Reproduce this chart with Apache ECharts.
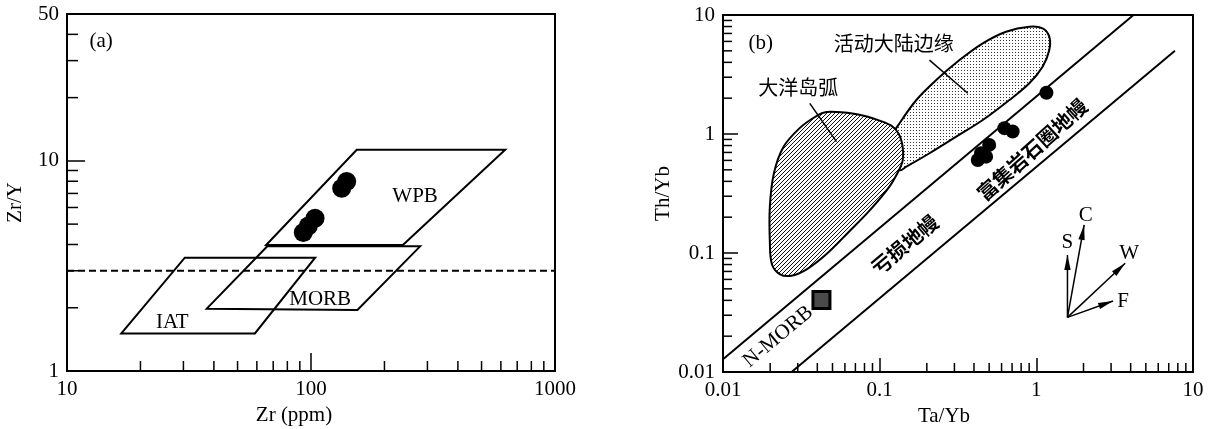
<!DOCTYPE html>
<html><head><meta charset="utf-8">
<script src="https://cdn.jsdelivr.net/npm/echarts@6/dist/echarts.min.js"></script>
<style>html,body{margin:0;padding:0;background:#fff}#c{width:1212px;height:429px}</style>
</head><body><div id="c"></div>
<script>
// ================= DATA: panel (a) Zr vs Zr/Y =================
const wpbField  = [[65.5, 3.98], [154, 11.3], [625, 11.3], [238, 3.98]];
const morbField = [[37.4, 1.98], [66.2, 3.92], [280, 3.92], [155, 1.95]];
const iatField  = [[16.7, 1.51], [30.4, 3.46], [104, 3.46], [58.9, 1.51]];
const dashedLine = [[10, 3], [1000, 3]];
const samplesA = [[133.6, 7.41], [140, 7.97], [103.9, 5.33], [97.5, 4.9], [93, 4.56]];

// ================= DATA: panel (b) Ta/Yb vs Th/Yb =================
const arcField = [[0.0458,1.53],[0.0685,1.48],[0.0912,1.35],[0.118,1.18],[0.1325,1.0],[0.1403,0.777],
  [0.1403,0.60],[0.1325,0.494],[0.1148,0.358],[0.0861,0.227],[0.0646,0.154],[0.0458,0.098],
  [0.0344,0.0733],[0.0273,0.0644],[0.023,0.0665],[0.0205,0.0808],[0.0199,0.127],[0.0199,0.243],
  [0.0211,0.463],[0.0243,0.777],[0.0306,1.11],[0.0386,1.39]];
const acmField = [[0.134,1.23],[0.1714,1.93],[0.2296,2.84],[0.3233,4.18],[0.455,5.78],[0.641,7.24],
  [0.902,7.98],[1.096,7.73],[1.21,6.57],[1.21,5.08],[1.096,3.68],[0.902,2.67],[0.673,1.93],
  [0.455,1.31],[0.308,0.949],[0.208,0.689],[0.148,0.531],[0.134,0.498],[0.125,0.62],[0.12,0.95]];
const upperBoundary = [[0.01, 0.0128], [4.17, 10]];
const lowerBoundary = [[0.0274, 0.01], [7.67, 5.0]];
const arcLeader = [[0.0358, 1.81], [0.053, 0.862]];
const acmLeader = [[0.208, 4.18], [0.365, 2.2]];
const nmorbPoint = [[0.0425, 0.0403]];
const samplesB = [[1.16,2.22],[0.625,1.12],[0.706,1.05],[0.50,0.81],[0.444,0.69],[0.423,0.605],[0.478,0.645]];
const vectorOrigin = [1.58, 0.0288];
const vectorNames = ['S', 'C', 'W', 'F'];
const vectorEnds = [[1.58, 0.0962], [2.02, 0.172], [3.69, 0.0819], [3.09, 0.0395]];
const vectorLabelAt = [[1.58, 0.122], [2.07, 0.2085], [3.91, 0.0994], [3.58, 0.039]];

// ================= TICKS =================
const minorAx = [20,30,40,50,60,70,80,90,200,300,400,500,600,700,800,900];
const minorAy = [2,3,4,5,6,7,8,9,20,30,40];
const minorB  = [0.02,0.03,0.04,0.05,0.06,0.07,0.08,0.09,0.2,0.3,0.4,0.5,0.6,0.7,0.8,0.9,2,3,4,5,6,7,8,9];

// ================= ANNOTATIONS =================
const labelsA = [
  {t:'(a)', at:[13.8, 36.9]}, {t:'WPB', at:[267, 6.8]}, {t:'MORB', at:[109, 2.2]}, {t:'IAT', at:[27, 1.7]}
];
const labelsB = [
  {t:'(b)', at:[0.0174, 5.78]},
  {t:'活动大陆边缘', at:[0.1231, 5.78]},
  {t:'大洋岛弧', at:[0.0302, 2.47]},
  {t:'亏损地幔', at:[0.1444, 0.1175], rot:40, bold:true},
  {t:'富集岩石圈地幔', at:[0.94, 0.74], rot:42, bold:true},
  {t:'N-MORB', at:[0.0225, 0.0198], rot:40}
];

const SERIF = "'Liberation Serif','Times New Roman',serif";
const CJK = "'Noto Sans CJK SC',sans-serif";

function makeHatch() {
  const c = document.createElement('canvas'); c.width = c.height = 4;
  const g = c.getContext('2d');
  g.fillStyle = '#fff'; g.fillRect(0, 0, 4, 4);
  g.strokeStyle = '#111'; g.lineWidth = 1;
  g.beginPath(); g.moveTo(-1,5); g.lineTo(5,-1); g.moveTo(-1,1); g.lineTo(1,-1); g.moveTo(3,5); g.lineTo(5,3); g.stroke();
  return c;
}
function makeDots() {
  const c = document.createElement('canvas'); c.width = c.height = 3;
  const g = c.getContext('2d');
  g.fillStyle = '#fff'; g.fillRect(0, 0, 3, 3);
  g.fillStyle = '#333'; g.fillRect(1,1,1,1);
  return c;
}
const hatchPat = {image: makeHatch(), repeat: 'repeat'};
const dotPat = {image: makeDots(), repeat: 'repeat'};

function polySeries(gi, pts, fill, smooth, lw) {
  return {
    type: 'custom', xAxisIndex: gi, yAxisIndex: gi, data: pts, clip: true, silent: true,
    renderItem: function (params, api) {
      if (params.dataIndex !== 0) return null;
      const p = pts.map(v => api.coord(v));
      return {type: 'polygon', shape: {points: p, smooth: smooth || 0},
        style: {fill: fill || 'none', stroke: '#000', lineWidth: lw || 2}};
    }
  };
}
function lineSeries(gi, pts, lw, dash) {
  return {type: 'line', xAxisIndex: gi, yAxisIndex: gi, data: pts, symbol: 'none', silent: true,
    lineStyle: {color: '#000', width: lw, type: dash || 'solid'}, z: 3};
}
function minorSeries(gi, vals, dir, xmin, ymin, len) {
  const data = vals.map(v => dir === 'x' ? [v, ymin] : [xmin, v]);
  return {type: 'custom', xAxisIndex: gi, yAxisIndex: gi, data: data, silent: true, clip: false,
    renderItem: function (params, api) {
      const p = api.coord([api.value(0), api.value(1)]);
      const q = dir === 'x' ? [p[0], p[1] - len] : [p[0] + len, p[1]];
      return {type: 'line', shape: {x1: p[0], y1: p[1], x2: q[0], y2: q[1]}, style: {stroke: '#000', lineWidth: 1.5}};
    }};
}
function textSeries(gi, labels) {
  return {type: 'custom', xAxisIndex: gi, yAxisIndex: gi, data: labels.map(l => l.at), silent: true, clip: false, z: 6,
    renderItem: function (params, api) {
      const l = labels[params.dataIndex];
      const p = api.coord(l.at);
      const isCJK = /[\u4e00-\u9fff]/.test(l.t);
      return {type: 'text', x: p[0], y: p[1], rotation: (l.rot || 0) * Math.PI / 180,
        style: {text: l.t, fill: '#000', align: 'center', verticalAlign: 'middle',
          font: (l.bold ? 'bold ' : '') + (isCJK ? '20px ' + CJK : '21px ' + SERIF)}};
    }};
}
function vectorSeries(gi) {
  return {type: 'custom', xAxisIndex: gi, yAxisIndex: gi, data: vectorEnds, silent: true, clip: false, z: 5,
    renderItem: function (params, api) {
      const i = params.dataIndex;
      const p0 = api.coord(vectorOrigin), p1 = api.coord(vectorEnds[i]);
      const dx = p1[0] - p0[0], dy = p1[1] - p0[1], L = Math.hypot(dx, dy), ux = dx / L, uy = dy / L;
      const hl = 15, hw = 3.2;
      const b = [p1[0] - ux * hl, p1[1] - uy * hl];
      const lp = api.coord(vectorLabelAt[i]);
      return {type: 'group', children: [
        {type: 'line', shape: {x1: p0[0], y1: p0[1], x2: p1[0], y2: p1[1]}, style: {stroke: '#000', lineWidth: 1.5}},
        {type: 'polygon', shape: {points: [p1, [b[0] - uy * hw, b[1] + ux * hw], [b[0] + uy * hw, b[1] - ux * hw]]}, style: {fill: '#000'}},
        {type: 'text', x: lp[0], y: lp[1], style: {text: vectorNames[i], font: '21px ' + SERIF, fill: '#000', align: 'center', verticalAlign: 'middle'}}
      ]};
    }};
}

const fmt = v => String(+(+v).toPrecision(4));
function axis(gi, min, max, name, isX, tickLen, namePad, gap) {
  return {
    type: 'log', logBase: 10, gridIndex: gi, min: min, max: max,
    name: name, nameLocation: 'middle', nameGap: gap,
    nameTextStyle: {fontFamily: SERIF, fontSize: 21, color: '#000', padding: namePad},
    axisLine: {show: true, onZero: false, lineStyle: {color: '#000', width: 2}},
    axisTick: {show: true, inside: true, length: tickLen, lineStyle: {color: '#000', width: 1.5}},
    minorTick: {show: false}, splitLine: {show: false}, minorSplitLine: {show: false},
    axisLabel: {fontFamily: SERIF, fontSize: 21, color: '#000', margin: isX ? 8 : 8, formatter: fmt, hideOverlap: false}
  };
}

const chart = echarts.init(document.getElementById('c'), null, {renderer: 'canvas'});
chart.setOption({
  animation: false,
  backgroundColor: '#fff',
  grid: [
    {left: 67, top: 14, width: 488, height: 357, show: true, borderColor: '#000', borderWidth: 2, containLabel: false, outerBoundsMode: 'none'},
    {left: 723, top: 15, width: 470, height: 357, show: true, borderColor: '#000', borderWidth: 2, containLabel: false, outerBoundsMode: 'none'}
  ],
  xAxis: [
    axis(0, 10, 1000, 'Zr (ppm)', true, 18, [0, 34, 0, 0], 34),
    axis(1, 0.01, 10, 'Ta/Yb', true, 14, [0, 28, 0, 0], 34)
  ],
  yAxis: [
    axis(0, 1, 50, 'Zr/Y', false, 18, [0, 20, 0, 0], 41),
    axis(1, 0.01, 10, 'Th/Yb', false, 15, [0, 0, 0, 0], 43)
  ],
  series: [
    // panel a
    minorSeries(0, minorAx, 'x', 10, 1, 10),
    minorSeries(0, minorAy, 'y', 10, 1, 11),
    lineSeries(0, dashedLine, 2, [7, 4]),
    polySeries(0, wpbField, 'none', 0, 2),
    polySeries(0, morbField, 'none', 0, 2),
    polySeries(0, iatField, 'none', 0, 2),
    {type: 'scatter', xAxisIndex: 0, yAxisIndex: 0, data: samplesA, symbol: 'circle', symbolSize: 19,
      itemStyle: {color: '#000', opacity: 1}, z: 4, silent: true},
    textSeries(0, labelsA),
    // panel b
    minorSeries(1, minorB, 'x', 0.01, 0.01, 9),
    minorSeries(1, minorB, 'y', 0.01, 0.01, 9),
    polySeries(1, acmField, dotPat, 0.35, 2),
    polySeries(1, arcField, hatchPat, 0.35, 2),
    lineSeries(1, upperBoundary, 2),
    lineSeries(1, lowerBoundary, 2),
    lineSeries(1, arcLeader, 1.5),
    lineSeries(1, acmLeader, 1.5),
    {type: 'scatter', xAxisIndex: 1, yAxisIndex: 1, data: nmorbPoint, symbol: 'rect', symbolSize: 17,
      itemStyle: {color: '#4a4a4a', borderColor: '#000', borderWidth: 3, opacity: 1}, z: 4, silent: true},
    {type: 'scatter', xAxisIndex: 1, yAxisIndex: 1, data: samplesB, symbol: 'circle', symbolSize: 14,
      itemStyle: {color: '#000', opacity: 1}, z: 4, silent: true},
    vectorSeries(1),
    textSeries(1, labelsB)
  ]
});
</script>
</body></html>
